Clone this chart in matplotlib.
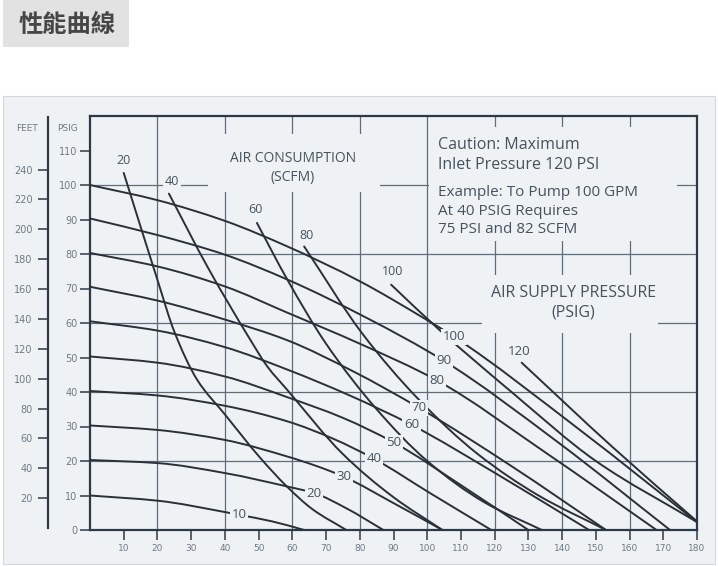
import matplotlib
matplotlib.use('Agg')
import matplotlib.pyplot as plt
from matplotlib.patches import Rectangle, PathPatch
from matplotlib.path import Path

# ---------------- data ----------------
x_ticks = list(range(10, 190, 10))
psig_ticks = list(range(0, 120, 10))
feet_ticks = list(range(20, 260, 20))

# air supply pressure curves (PSIG): flow (GPM) vs discharge pressure (PSIG)
supply_names = ['10', '20', '30', '40', '50', '60', '70', '80', '90', '100', '120']
supply_x = {
    '10': [0, 20, 40, 44.2, 54, 63.5],
    '20': [0, 20, 40, 58.5, 66.5, 76, 87],
    '30': [0, 20, 40, 58.5, 67, 75.4, 90, 104.5],
    '40': [0, 20, 40, 58.5, 72, 84.3, 101, 119],
    '50': [0, 20, 40, 58.5, 75, 90.2, 110, 130],
    '60': [0, 20, 40, 58.5, 77, 95.3, 121, 148],
    '70': [0, 20, 40, 58.5, 78, 97.6, 125, 153],
    '80': [0, 20, 40, 58.5, 80, 103, 135, 168],
    '90': [0, 20, 40, 58.5, 82, 105, 138, 172],
    '100': [0, 20, 40, 58.5, 80, 98.5, 108, 145, 180],
    '120': [128, 155, 180],
}
supply_y = {
    '10': [10, 8.5, 5.2, 4.4, 2.5, 0],
    '20': [20.3, 19.4, 16.5, 12.6, 10.7, 6.3, 0],
    '30': [30.3, 29, 26.1, 21.3, 18.6, 15.4, 7.8, 0],
    '40': [40.3, 39, 36, 31.5, 26.5, 20.6, 10.6, 0],
    '50': [50.3, 48.5, 44.5, 38.5, 32.5, 25.3, 13, 0],
    '60': [60.5, 57.8, 53, 46.5, 39, 30.5, 16, 0],
    '70': [70.5, 66.5, 61, 55, 46, 35.4, 18.5, 0],
    '80': [80.3, 76.4, 70.6, 63, 54, 43.3, 22.5, 0],
    '90': [90.3, 85.5, 79.8, 72.6, 61.5, 49, 26, 0],
    '100': [100, 95.6, 89.6, 82.2, 72.1, 61.7, 56, 29.2, 2.3],
    '120': [48.5, 24, 2.5],
}
# label positions on the supply curves
supply_lab_x = [44.2, 66.5, 75.4, 84.3, 90.2, 95.3, 97.6, 103, 105, 108, 127.3]
supply_lab_y = [4.4, 10.7, 15.4, 20.6, 25.3, 30.5, 35.4, 43.3, 49, 56, 51.7]

# air consumption curves (SCFM)
scfm_names = ['20', '40', '60', '80', '100']
scfm_x = {
    '20': [10, 20, 25, 31.8, 40, 50.4, 58.5, 66, 76],
    '40': [23.4, 35, 47.5, 52.5, 58.5, 75, 90, 104.5],
    '60': [49.5, 58.5, 70, 85, 100, 117, 134],
    '80': [63.5, 80.7, 97.6, 115, 133, 153],
    '100': [89.3, 103.6, 125, 150, 180],
}
scfm_y = {
    '20': [103.5, 72.5, 57.5, 43.5, 33.5, 21, 12.5, 6, 0],
    '40': [97.5, 76, 55.2, 47.5, 40.6, 22, 9.5, 0],
    '60': [89, 72.6, 54, 35, 20, 8, 0],
    '80': [82.2, 57, 37.7, 22, 10, 0],
    '100': [71.1, 58, 40, 20, 2.3],
}
scfm_lab_x = [10.1, 24.3, 49, 64.1, 89.6]
scfm_lab_y = [107, 101, 92.8, 85.3, 74.8]

# ---------------- style ----------------
BG = '#eef2f5'
LINE = '#2a3038'
GRID = '#5d6d7b'
FRAME = '#2c3a47'
TXT = '#46525d'
TICKTXT = '#6f7a84'
FONT = 'Open Sans'


def smooth_path(xs, ys):
    """Monotone cubic Hermite curve through the given points, as Bezier path."""
    n = len(xs)
    h = [xs[i + 1] - xs[i] for i in range(n - 1)]
    d = [(ys[i + 1] - ys[i]) / h[i] for i in range(n - 1)]
    m = [0.0] * n
    m[0], m[-1] = d[0], d[-1]
    for k in range(1, n - 1):
        if d[k - 1] * d[k] <= 0:
            m[k] = 0.0
        else:
            w1 = 2 * h[k] + h[k - 1]
            w2 = h[k] + 2 * h[k - 1]
            m[k] = (w1 + w2) / (w1 / d[k - 1] + w2 / d[k])
    verts = [(xs[0], ys[0])]
    codes = [Path.MOVETO]
    for i in range(n - 1):
        t = h[i] / 3.0
        verts += [(xs[i] + t, ys[i] + m[i] * t),
                  (xs[i + 1] - t, ys[i + 1] - m[i + 1] * t),
                  (xs[i + 1], ys[i + 1])]
        codes += [Path.CURVE4] * 3
    return Path(verts, codes)


W, H = 718, 566
fig = plt.figure(figsize=(W / 100, H / 100), dpi=100)
fig.patch.set_facecolor('white')

# chart panel
fig.patches.append(Rectangle((3 / W, 2 / H), 712 / W, (H - 96 - 2) / H,
                             transform=fig.transFigure, facecolor=BG,
                             edgecolor='#d3d8dc', lw=0.8, zorder=-5))
# title tab
fig.patches.append(Rectangle((3 / W, (H - 47) / H), 126 / W, 47 / H,
                             transform=fig.transFigure, facecolor='#e2e2e2',
                             edgecolor='none', zorder=-5))
fig.text(67 / W, 1 - 25 / H, '性能曲線', ha='center', va='center',
         fontsize=17.5, fontweight='bold', color='#464646',
         family=['Noto Sans CJK TC', 'DejaVu Sans'])

left, bottom, right, top = 90, 530, 697, 116
ax = fig.add_axes([left / W, (H - bottom) / H, (right - left) / W, (bottom - top) / H])
ax.set_zorder(2)
ax.set_xlim(0, 180)
ax.set_ylim(0, 120)
ax.set_facecolor(BG)
for s in ax.spines.values():
    s.set_color(FRAME)
    s.set_linewidth(1.6)
ax.set_xticks(x_ticks)
ax.set_xticklabels([str(v) for v in x_ticks])
ax.set_yticks(psig_ticks)
ax.set_yticklabels([str(v) for v in psig_ticks])
ax.tick_params(axis='y', direction='out', length=7, width=1.1, color=FRAME,
               labelsize=7, labelcolor=TICKTXT, pad=2)
ax.tick_params(axis='x', direction='out', length=7, width=1.1, color=FRAME,
               labelsize=6.5, labelcolor=TICKTXT, pad=3)

# grid
for gx in range(20, 180, 20):
    ax.axvline(gx, color=GRID, lw=0.9, zorder=1)
for gy in range(20, 120, 20):
    ax.axhline(gy, color=GRID, lw=0.9, zorder=1)
# blank areas behind the text blocks
for (mx, my, mw, mh) in [(35, 98, 51, 16.7), (100.6, 83.7, 73.4, 33), (116.3, 57.2, 52.2, 16.8)]:
    ax.add_patch(Rectangle((mx, my), mw, mh, facecolor=BG, edgecolor='none', zorder=1.5))

# curves
for n in supply_names:
    ax.add_patch(PathPatch(smooth_path(supply_x[n], supply_y[n]), fill=False,
                           ec=LINE, lw=1.4, zorder=3, capstyle='round'))
for n in scfm_names:
    ax.add_patch(PathPatch(smooth_path(scfm_x[n], scfm_y[n]), fill=False,
                           ec=LINE, lw=1.4, zorder=3, capstyle='round'))

lab_box = dict(boxstyle='square,pad=0.12', fc=BG, ec='none')
for n, lx, ly in zip(supply_names, supply_lab_x, supply_lab_y):
    ax.text(lx, ly, n, ha='center', va='center', fontsize=9.5, color=TXT,
            family=FONT, bbox=lab_box, zorder=5)
for n, lx, ly in zip(scfm_names, scfm_lab_x, scfm_lab_y):
    ax.text(lx, ly, n, ha='center', va='center', fontsize=9, color=TXT,
            family=FONT, bbox=lab_box, zorder=5)

# text blocks
ax.text(60.2, 107.8, 'AIR CONSUMPTION', ha='center', va='center', fontsize=10,
        color=TXT, family=FONT, zorder=5)
ax.text(60.2, 102.3, '(SCFM)', ha='center', va='center', fontsize=10,
        color=TXT, family=FONT, zorder=5)
caution = ['Caution: Maximum', 'Inlet Pressure 120 PSI']
example = ['Example: To Pump 100 GPM', 'At 40 PSIG Requires', '75 PSI and 82 SCFM']
for i, t in enumerate(caution):
    ax.text(103.3, 111.7 - i * 5.9, t, ha='left', va='center', fontsize=11.5,
            color=TXT, family=FONT, zorder=5)
for i, t in enumerate(example):
    ax.text(103.3, 97.9 - i * 5.45, t, ha='left', va='center', fontsize=11,
            color=TXT, family=FONT, zorder=5)
ax.text(143.3, 68.7, 'AIR SUPPLY PRESSURE', ha='center', va='center', fontsize=11.5,
        color=TXT, family=FONT, zorder=5)
ax.text(143.3, 62.9, '(PSIG)', ha='center', va='center', fontsize=11.5,
        color=TXT, family=FONT, zorder=5)

# FEET axis
axf = fig.add_axes([48 / W, (H - bottom + 2) / H, 0.0001, (bottom - top - 3) / H])
axf.set_zorder(2)
axf.set_ylim(0, 120 * 2.31 * (bottom - top - 3) / (bottom - top))
axf.set_xticks([])
for k in ['top', 'right', 'bottom']:
    axf.spines[k].set_visible(False)
axf.spines['left'].set_color(FRAME)
axf.spines['left'].set_linewidth(1.6)
axf.set_yticks(feet_ticks)
axf.set_yticklabels([str(v) for v in feet_ticks])
axf.tick_params(axis='y', direction='out', length=7, width=1.1, color=FRAME,
                labelsize=7, labelcolor=TICKTXT, pad=4)
axf.patch.set_alpha(0)

fig.text(27 / W, 1 - 128 / H, 'FEET', ha='center', va='center', fontsize=6.5,
         color=TICKTXT)
fig.text(67 / W, 1 - 128 / H, 'PSIG', ha='center', va='center', fontsize=6.5,
         color=TICKTXT)

fig.savefig('out.png', dpi=100, facecolor='white')
